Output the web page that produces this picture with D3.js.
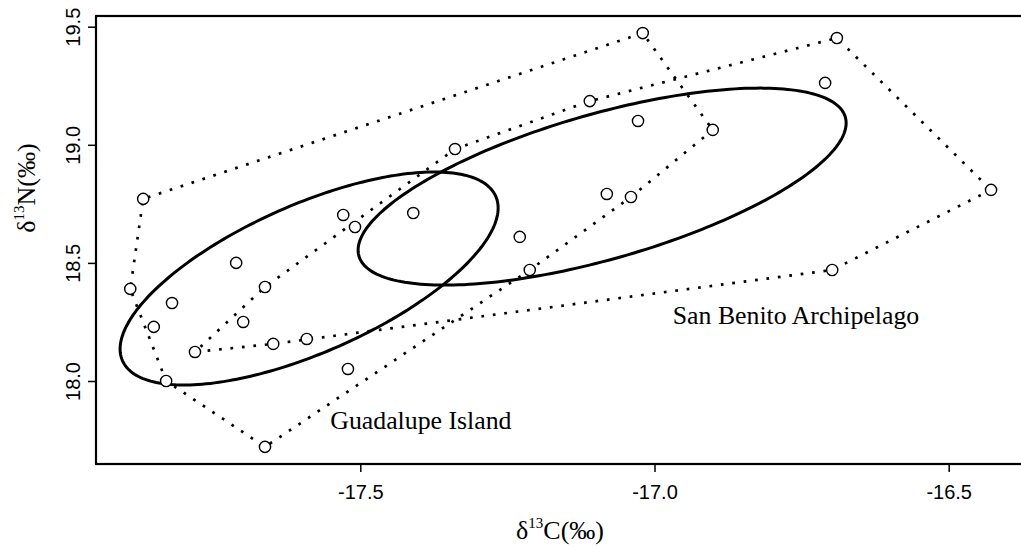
<!DOCTYPE html>
<html>
  <head>
    <meta charset="utf-8">
    <script src="https://d3js.org/d3.v7.min.js"></script>
    <title>Isotope niches</title>
    <style>
      body {
        margin: 0px;
        background: #fff;
      }
      .domain {
        display: none;
      }
      .tick line {
        stroke: #000;
        stroke-width: 1.5;
      }
      .tick text {
        fill: #000;
        font-size: 20px;
        font-family: 'Liberation Sans', Arial, sans-serif;
      }
      .axis-label, .site-label {
        fill: #000;
        font-family: 'Liberation Serif', 'Times New Roman', serif;
      }
    </style>
  </head>
  <body>
    <svg width="1021" height="547"></svg>
    <script>
      // Guadalupe Island samples (d13C, d15N)
      const guadX = [-17.869, -17.529, -17.711, -17.891, -17.820, -17.851, -17.699,
                     -17.830, -17.662, -17.521, -17.020, -17.040, -17.212, -16.901];
      const guadY = [18.771, 18.703, 18.500, 18.390, 18.330, 18.229, 18.250,
                     18.000, 17.721, 18.051, 19.473, 18.779, 18.470, 19.063];
      // San Benito Archipelago samples
      const benitoX = [-17.662, -17.781, -17.648, -17.591, -17.110, -17.028, -17.339, -17.410,
                       -17.509, -17.081, -17.229, -16.690, -16.710, -16.428, -16.698];
      const benitoY = [18.398, 18.123, 18.157, 18.178, 19.185, 19.101, 18.982, 18.711,
                       18.652, 18.792, 18.610, 19.452, 19.262, 18.809, 18.470];

      // standard ellipses: centre and covariance, in data units
      const ellipseCx = [-17.587, -17.089];
      const ellipseCy = [18.434, 18.823];
      const ellipseSxx = [0.1032, 0.1720];
      const ellipseSyy = [0.2033, 0.1739];
      const ellipseSxy = [0.0959, 0.1115];

      const siteNames = ['Guadalupe Island', 'San Benito Archipelago'];
      const siteLabelX = [-17.551, -16.969];
      const siteLabelY = [17.797, 18.240];

      const xTicks = [-17.5, -17.0, -16.5];
      const yTicks = [18.0, 18.5, 19.0, 19.5];

      const margin = { left: 96, right: -3, top: 16, bottom: 83 };
      const svg = d3.select('svg');
      const width = +svg.attr('width');
      const height = +svg.attr('height');
      const innerWidth = width - margin.left - margin.right;
      const innerHeight = height - margin.top - margin.bottom;

      const g = svg.append('g')
          .attr('transform', `translate(${margin.left},${margin.top})`);

      const xScale = d3.scaleLinear()
          .domain([-17.9492, -16.3720])
          .range([0, innerWidth]);
      const yScale = d3.scaleLinear()
          .domain([17.6486, 19.5453])
          .range([innerHeight, 0]);

      // R style labels: plain hyphen for the minus sign
      const fmt = d => d.toFixed(1);

      const xAxis = d3.axisBottom(xScale)
          .tickValues(xTicks)
          .tickFormat(fmt)
          .tickSize(8)
          .tickPadding(13);
      const yAxis = d3.axisLeft(yScale)
          .tickValues(yTicks)
          .tickFormat(fmt)
          .tickSize(8);

      const xAxisG = g.append('g')
          .attr('transform', `translate(0,${innerHeight})`)
          .call(xAxis);
      xAxisG.selectAll('text').attr('dy', '0.71em');

      const yAxisG = g.append('g').call(yAxis);
      yAxisG.selectAll('.tick text')
          .attr('transform', 'rotate(-90)')
          .attr('x', 0)
          .attr('y', -16)
          .attr('dy', 0)
          .style('text-anchor', 'middle');

      // convex hulls, dotted
      const line = d3.line()
          .x(d => xScale(d[0]))
          .y(d => yScale(d[1]))
          .curve(d3.curveLinearClosed);
      const groups = [
        d3.zip(guadX, guadY),
        d3.zip(benitoX, benitoY)
      ];
      g.selectAll('.hull').data(groups)
        .enter().append('path')
          .attr('class', 'hull')
          .attr('d', d => line(d3.polygonHull(d)))
          .attr('fill', 'none')
          .attr('stroke', '#000')
          .attr('stroke-width', 2.7)
          .attr('stroke-dasharray', '2.7 8.8');

      // standard ellipses
      const ellipsePoints = i => {
        const l11 = Math.sqrt(ellipseSxx[i]);
        const l21 = ellipseSxy[i] / l11;
        const l22 = Math.sqrt(ellipseSyy[i] - l21 * l21);
        return d3.range(0, 2 * Math.PI, Math.PI / 120).map(t => [
          ellipseCx[i] + l11 * Math.cos(t),
          ellipseCy[i] + l21 * Math.cos(t) + l22 * Math.sin(t)
        ]);
      };
      g.selectAll('.ellipse').data(d3.range(ellipseCx.length))
        .enter().append('path')
          .attr('class', 'ellipse')
          .attr('d', i => line(ellipsePoints(i)))
          .attr('fill', 'none')
          .attr('stroke', '#000')
          .attr('stroke-width', 3);

      // sample points
      g.selectAll('circle').data(groups.flat())
        .enter().append('circle')
          .attr('cx', d => xScale(d[0]))
          .attr('cy', d => yScale(d[1]))
          .attr('r', 5.6)
          .attr('fill', '#fff')
          .attr('stroke', '#000')
          .attr('stroke-width', 1.4);

      g.selectAll('.site-label').data(siteNames)
        .enter().append('text')
          .attr('class', 'site-label')
          .attr('x', (d, i) => xScale(siteLabelX[i]))
          .attr('y', (d, i) => yScale(siteLabelY[i]))
          .style('font-size', '25.8px')
          .text(d => d);

      // frame (right side runs past the edge)
      g.append('rect')
          .attr('width', innerWidth)
          .attr('height', innerHeight)
          .attr('fill', 'none')
          .attr('stroke', '#000')
          .attr('stroke-width', 2.2);

      // axis titles
      const xTitle = svg.append('text')
          .attr('class', 'axis-label')
          .attr('x', 560)
          .attr('y', 539)
          .style('font-size', '26px')
          .style('text-anchor', 'middle');
      xTitle.append('tspan').text('δ');
      xTitle.append('tspan').attr('dy', -11).style('font-size', '15px').text('13');
      xTitle.append('tspan').attr('dy', 11).text('C(‰)');

      const yTitle = svg.append('text')
          .attr('class', 'axis-label')
          .attr('transform', 'translate(35,188) rotate(-90)')
          .style('font-size', '26px')
          .style('text-anchor', 'middle');
      yTitle.append('tspan').text('δ');
      yTitle.append('tspan').attr('dy', -11).style('font-size', '15px').text('13');
      yTitle.append('tspan').attr('dy', 11).text('N(‰)');
    </script>
  </body>
</html>
